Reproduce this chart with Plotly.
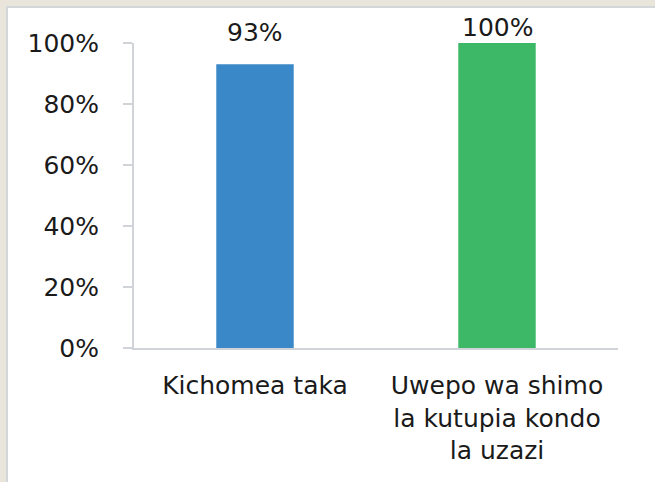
import plotly.graph_objects as go

categories = ["Kichomea taka", "Uwepo wa shimo<br>la kutupia kondo<br>la uzazi"]
values = [0.93, 1.00]
value_labels = ["93%", "100%"]
tick_vals = [0, 0.2, 0.4, 0.6, 0.8, 1.0]
tick_text = ["0%", "20%", "40%", "60%", "80%", "100%"]

bar_colors = ["#3A88C8", "#3DB867"]
label_shift = [15, -1]

W, H = 655, 482
L, R, T, B = 134, 37, 43, 134
pw, ph = W - L - R, H - T - B

def px_x(px):
    return (px - L) / pw

def px_y(py):
    return (H - B - py) / ph

FONT = "DejaVu Sans"

fig = go.Figure()
fig.add_trace(go.Bar(
    x=categories, y=values,
    marker=dict(color=bar_colors, line=dict(width=0)),
    width=0.32,
    hoverinfo="skip",
))

for c, v, t, s in zip(categories, values, value_labels, label_shift):
    fig.add_annotation(x=c, y=v, text=t, showarrow=False, yanchor="bottom",
                       yshift=s, font=dict(family=FONT, size=25, color="#1a1a1a"))

# white inner panel with grey border on beige background
fig.add_shape(type="rect", xref="paper", yref="paper",
              x0=px_x(7), x1=px_x(W + 20), y0=px_y(H + 20), y1=px_y(7),
              fillcolor="white", line=dict(color="#D3D7DA", width=2), layer="below")

fig.update_layout(
    width=W, height=H,
    margin=dict(l=L, r=R, t=T, b=B, pad=0),
    paper_bgcolor="#E9E5DB",
    plot_bgcolor="rgba(0,0,0,0)",
    showlegend=False,
    bargap=0.68,
    font=dict(family=FONT, size=25, color="#1a1a1a"),
    xaxis=dict(showline=True, linecolor="#D0D4D8", linewidth=2, ticks="",
               showgrid=False, zeroline=False, tickfont=dict(size=25),
               ticklabelstandoff=14, tickangle=0),
    yaxis=dict(range=[0, 1], tickvals=tick_vals, ticktext=tick_text,
               showline=True, linecolor="#D0D4D8", linewidth=2,
               ticks="outside", ticklen=9, tickcolor="#D0D4D8", tickwidth=2,
               showgrid=False, zeroline=False, tickfont=dict(size=25),
               ticklabelstandoff=19),
)

fig.write_html("out.html", config={"displayModeBar": False},
               post_script="document.body.style.margin='0';document.body.style.overflow='hidden';")
